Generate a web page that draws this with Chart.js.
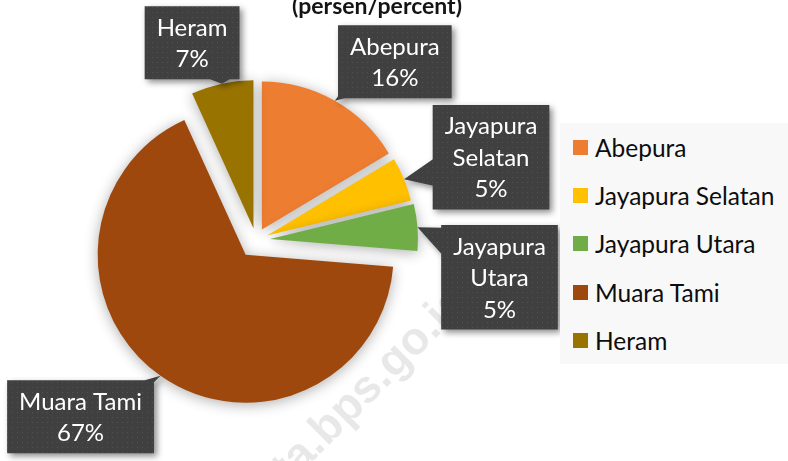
<!DOCTYPE html>
<html>
<head>
<meta charset="utf-8">
<script src="https://cdn.jsdelivr.net/npm/chart.js@4.4.1/dist/chart.umd.min.js"></script>
<style>
    html, body { margin: 0; padding: 0; background: #fff; }
    #wrap { position: relative; width: 788px; height: 461px; overflow: hidden; }
    #grafico { position: absolute; left: 0; top: 0; }
    #leyenda {
        position: absolute; left: 560px; top: 123px; width: 228px; height: 241px;
        background: #f8f8f8;
    }
    .item {
        height: 48.3px; display: flex; align-items: center; padding-left: 13px;
        font: 24.5px Lato, "Noto Sans", sans-serif; color: #0d0d0d;
    }
    .item i { display: inline-block; width: 15px; height: 15px; margin-right: 7px; }
</style>
</head>
<body>
<div id="wrap">
    <canvas id="grafico" width="788" height="461"></canvas>
    <div id="leyenda"></div>
</div>
<script>
// ---------------------------------------------------------------
//  Datos: persentase menurut distrik (persen/percent)
// ---------------------------------------------------------------
const kecamatan = ["Abepura", "Jayapura Selatan", "Jayapura Utara", "Muara Tami", "Heram"];
const persen    = [16.4, 4.8, 5.1, 66.9, 6.8];
const warna     = ["#ED7D31", "#FFC000", "#70AD47", "#9E480E", "#997300"];
const judul     = "(persen/percent)";
const watermark = "jayapurakota.bps.go.id";

// Estilo: separación de cada porción y desplazamiento de cada etiqueta
const ledakan    = [12, 12, 14, 18, 12];
const geserLabel = [[60, -39], [87, -22], [82, 50], [-80, 41], [-30, -41]];

// patrón punteado de las etiquetas (gris oscuro)
const pola = (() => {
    const c = document.createElement("canvas");
    c.width = 5; c.height = 5;
    const g = c.getContext("2d");
    g.fillStyle = "#404040"; g.fillRect(0, 0, 5, 5);
    g.fillStyle = "#525252"; g.fillRect(2, 2, 1, 1);
    return c;
})();

function bungkus(ctx, texto, maxW) {
    const palabras = texto.split(" ");
    const lineas = [];
    let actual = "";
    palabras.forEach((p) => {
        const prueba = actual ? actual + " " + p : p;
        if (actual && ctx.measureText(prueba).width > maxW) {
            lineas.push(actual);
            actual = p;
        } else {
            actual = prueba;
        }
    });
    if (actual) lineas.push(actual);
    return lineas;
}

// separa cada porción desde el centro (mismo radio para todas)
const pluginLedakan = {
    id: "ledakan",
    afterDatasetsUpdate(chart) {
        chart.getDatasetMeta(0).data.forEach((arc, i) => {
            const mid = (arc.startAngle + arc.endAngle) / 2;
            arc.x += Math.cos(mid) * ledakan[i];
            arc.y += Math.sin(mid) * ledakan[i];
        });
    },
};

const pluginFondo = {
    id: "fondo",
    beforeDatasetsDraw(chart) {
        const ctx = chart.ctx;
        // marca de agua
        ctx.save();
        ctx.font = "bold 46px 'Liberation Sans', Arial, sans-serif";
        ctx.fillStyle = "rgba(0,0,0,0.09)";
        ctx.translate(318, 456);
        ctx.rotate(-Math.PI / 4);
        const corte = watermark.indexOf(".bps");
        ctx.textAlign = "right";
        ctx.fillText(watermark.slice(0, corte), 0, 0);
        ctx.textAlign = "left";
        ctx.fillText(watermark.slice(corte), 0, 0);
        ctx.restore();
        // sombra del pastel
        ctx.save();
        ctx.shadowColor = "rgba(0,0,0,0.32)";
        ctx.shadowBlur = 14;
        ctx.shadowOffsetY = 2;
    },
    afterDatasetsDraw(chart) {
        chart.ctx.restore();
    },
};

const pluginCallout = {
    id: "callout",
    afterDatasetsDraw(chart) {
        const ctx = chart.ctx;
        const meta = chart.getDatasetMeta(0);
        const total = persen.reduce((a, b) => a + b, 0);
        ctx.save();
        ctx.font = "24px Lato, 'Noto Sans', sans-serif";
        meta.data.forEach((arc, i) => {
            const mid = (arc.startAngle + arc.endAngle) / 2;
            const ax = arc.x + Math.cos(mid) * arc.outerRadius;
            const ay = arc.y + Math.sin(mid) * arc.outerRadius;
            const lineas = bungkus(ctx, kecamatan[i], 125)
                .concat(Math.round(persen[i] / total * 100) + "%");
            const lh = 31.5;
            const w = Math.max(...lineas.map((l) => ctx.measureText(l).width)) + 24;
            const h = lineas.length * lh + 10;
            const cx = ax + geserLabel[i][0];
            const cy = ay + geserLabel[i][1];
            const box = { l: cx - w / 2, t: cy - h / 2, r: cx + w / 2, b: cy + h / 2 };

            // punta: donde la recta punto→centro entra en la caja
            const dx = cx - ax, dy = cy - ay;
            const tx = [(box.l - ax) / dx, (box.r - ax) / dx];
            const ty = [(box.t - ay) / dy, (box.b - ay) / dy];
            const txMin = Math.min(...tx), tyMin = Math.min(...ty);
            const t = Math.max(txMin, tyMin);
            const px = ax + t * dx, py = ay + t * dy;
            let b1, b2;
            const cl = (v, a, b) => Math.max(a, Math.min(b, v));
            if (txMin > tyMin) {
                const ix = px + (dx > 0 ? 2 : -2);
                b1 = [ix, cl(py - 14, box.t, box.b)];
                b2 = [ix, cl(py + 14, box.t, box.b)];
            } else {
                const iy = py + (dy > 0 ? 2 : -2);
                b1 = [cl(px - 14, box.l, box.r), iy];
                b2 = [cl(px + 14, box.l, box.r), iy];
            }
            const area = (b1[0] - ax) * (b2[1] - ay) - (b2[0] - ax) * (b1[1] - ay);
            if (area < 0) { const tmp = b1; b1 = b2; b2 = tmp; }

            ctx.save();
            ctx.beginPath();
            ctx.rect(box.l, box.t, w, h);
            if (t > 0) {
                ctx.moveTo(ax, ay);
                ctx.lineTo(b1[0], b1[1]);
                ctx.lineTo(b2[0], b2[1]);
                ctx.closePath();
            }
            ctx.shadowColor = "rgba(0,0,0,0.45)";
            ctx.shadowBlur = 6;
            ctx.shadowOffsetX = 3;
            ctx.shadowOffsetY = 3;
            ctx.fillStyle = ctx.createPattern(pola, "repeat");
            ctx.fill("nonzero");
            ctx.restore();

            ctx.fillStyle = "#ffffff";
            ctx.textAlign = "center";
            ctx.textBaseline = "middle";
            lineas.forEach((l, k) => {
                ctx.fillText(l, cx, box.t + 5 + lh * k + lh / 2 + 1);
            });
        });
        ctx.restore();
    },
    afterDraw(chart) {
        const ctx = chart.ctx;
        ctx.save();
        ctx.font = "bold 23px Lato, 'Noto Sans', sans-serif";
        ctx.fillStyle = "#141414";
        ctx.textAlign = "center";
        ctx.textBaseline = "alphabetic";
        ctx.fillText(judul, 377, 14);
        ctx.restore();
    },
};

const chart = new Chart(document.getElementById("grafico"), {
    type: "pie",
    data: {
        labels: kecamatan,
        datasets: [{
            data: persen,
            backgroundColor: warna,
            borderWidth: 0,
            radius: 148,
            clip: false,
        }],
    },
    options: {
        responsive: false,
        animation: false,
        events: [],
        layout: { padding: { left: 0, right: 276, top: 19, bottom: 0 } },
        plugins: {
            legend: { display: false },
            tooltip: { enabled: false },
            title: { display: false },
        },
    },
    plugins: [pluginLedakan, pluginFondo, pluginCallout],
});

// leyenda HTML a partir de las mismas listas
document.getElementById("leyenda").innerHTML = kecamatan
    .map((k, i) => `<div class="item"><i style="background:${warna[i]}"></i>${k}</div>`)
    .join("");
</script>
</body>
</html>
